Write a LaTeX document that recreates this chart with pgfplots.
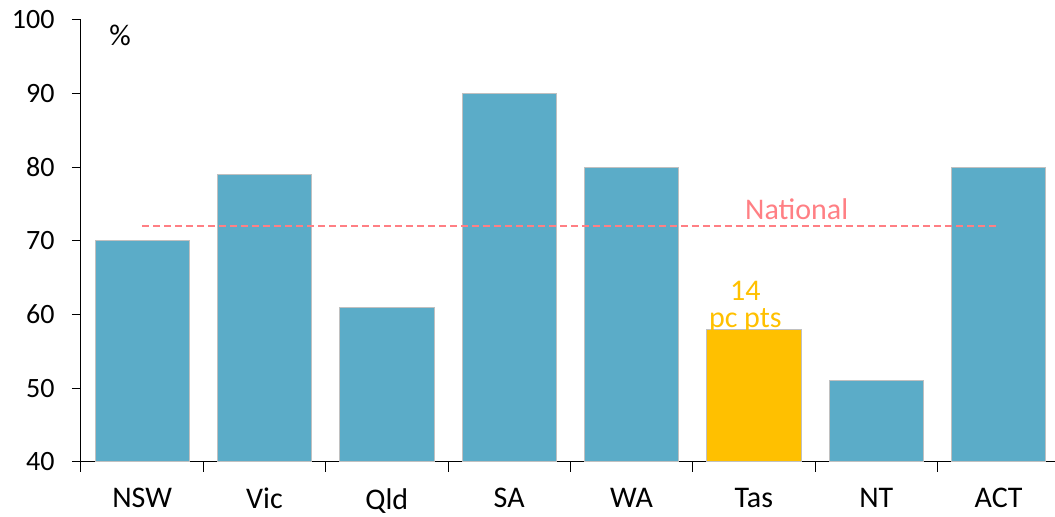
\documentclass[border=0pt]{standalone}
\usepackage{pgfplots}
\pgfplotsset{compat=1.18}
\usepackage{fontspec}
\setmainfont{Carlito}
\definecolor{barblue}{HTML}{5BACC8}
\definecolor{baryel}{HTML}{FFC000}
\definecolor{natpink}{HTML}{FF7F84}
\definecolor{bargray}{HTML}{C0C0C0}
\begin{document}
\begin{tikzpicture}
\begin{axis}[
  scale only axis, width=974pt, height=442pt,
  xmin=-0.5, xmax=7.457, ymin=40, ymax=100,
  axis x line=bottom, axis y line=left, axis line style={-, line width=1pt},
  ytick={40,50,...,100},
  xtick={0,...,7}, xticklabels={NSW,Vic,Qld,SA,WA,Tas,NT,ACT},
  major x tick style={draw=none},
  minor xtick={-0.5,0.5,...,6.5},
  tick align=outside, major tick length=9pt, minor tick length=10pt,
  tick style={line width=1pt, black},
  yticklabel style={font=\fontsize{28}{32}\selectfont, xshift=-14pt},
  xticklabel style={font=\fontsize{30}{34}\selectfont, yshift=-14pt},
  /pgf/number format/assume math mode=true,
  clip=false,
]
\addplot[ybar, bar shift=0pt, bar width=0.77, fill=barblue, draw=bargray, line width=0.8pt]
  coordinates {(0,70) (1,79) (2,61) (3,90) (4,80) (6,51) (7,80)};
\addplot[ybar, bar shift=0pt, bar width=0.77, fill=baryel, draw=bargray, line width=0.8pt]
  coordinates {(5,58)};
\addplot[natpink, line width=2pt, dash pattern=on 7pt off 4pt] coordinates {(0,72) (7,72)};
\node[natpink, font=\fontsize{30}{34}\selectfont, anchor=base, inner sep=0pt] at (axis cs:5.35,72.9) {National};
\node[baryel, font=\fontsize{30}{34}\selectfont, anchor=base, inner sep=0pt] at (axis cs:4.93,61.9) {14};
\node[baryel, font=\fontsize{30}{34}\selectfont, anchor=base, inner sep=0pt] at (axis cs:4.93,58.2) {pc pts};
\node[black, font=\fontsize{30}{34}\selectfont, anchor=base, inner sep=0pt] at (axis cs:-0.18,96.6) {\%};
\end{axis}
\path ([xshift=-81pt,yshift=-55pt]current axis.south west) rectangle ([yshift=20pt]current axis.north east);
\end{tikzpicture}
\end{document}
